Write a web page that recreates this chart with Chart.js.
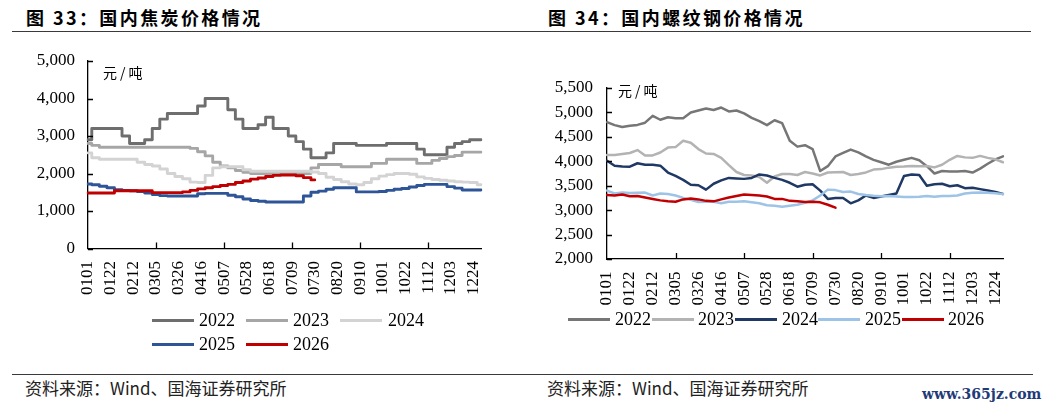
<!DOCTYPE html>
<html><head><meta charset="utf-8">
<script src="https://cdn.jsdelivr.net/npm/chart.js@4.4.0/dist/chart.umd.min.js"></script>
<style>
html,body{margin:0;padding:0;background:#fff;}
body{width:1045px;height:411px;position:relative;overflow:hidden;font-family:"Noto Sans CJK SC",sans-serif;}
.title{position:absolute;top:6px;font-weight:bold;font-size:18px;letter-spacing:2.4px;color:#000;white-space:nowrap;line-height:22px;}
.rule{position:absolute;height:0;border-top:1.5px solid #3a3a3a;}
.src{position:absolute;top:378px;font-size:17px;line-height:20px;color:#222;white-space:nowrap;}
.unit{position:absolute;font-size:14px;line-height:16px;letter-spacing:3px;color:#000;white-space:nowrap;}
.wm{position:absolute;left:922px;top:386px;font-family:"DejaVu Serif",serif;font-weight:bold;font-size:14px;color:#1f3b78;white-space:nowrap;}
canvas{position:absolute;}
.lgs{position:absolute;width:42px;height:3px;}
.lgt{position:absolute;font-family:"Liberation Serif",serif;font-size:18px;line-height:20px;color:#000;white-space:nowrap;}
</style></head>
<body>
<div class="title" style="left:26px">图 33：国内焦炭价格情况</div>
<div class="title" style="left:548px">图 34：国内螺纹钢价格情况</div>
<div class="rule" style="left:12px;top:31px;width:1019px"></div>
<div class="rule" style="left:12px;top:374px;width:1021px"></div>
<div class="src" style="left:25px">资料来源：Wind、国海证券研究所</div>
<div class="src" style="left:547px">资料来源：Wind、国海证券研究所</div>
<div class="wm">www.365jz.com</div>
<canvas id="c1" width="520" height="300" style="left:0;top:0"></canvas>
<canvas id="c2" width="525" height="320" style="left:520px;top:0"></canvas>
<div class="unit" style="left:103px;top:64px">元/吨</div>
<div class="unit" style="left:618px;top:82px">元/吨</div>
<div id="legend1"></div>
<div id="legend2"></div>
<script>
// ---- data ----
const weeks = ['0101','0108','0115','0122','0129','0205','0212','0219','0226','0305','0312','0319','0326','0402','0409','0416','0423','0430','0507','0514','0521','0528','0604','0611','0618','0625','0702','0709','0716','0723','0730','0806','0813','0820','0827','0903','0910','0917','0924','1001','1008','1015','1022','1029','1105','1112','1119','1126','1203','1210','1217','1224','1231'];
const tickLabels = ['0101','0122','0212','0305','0326','0416','0507','0528','0618','0709','0730','0820','0910','1001','1022','1112','1203','1224'];
const years = ['2022','2023','2024','2025','2026'];

// 国内焦炭价格 (元/吨)
const coke2022 = [2900,3200,3200,3200,3200,3000,2800,2800,2900,3200,3450,3600,3600,3600,3600,3800,4000,4000,4000,3700,3450,3200,3200,3300,3500,3200,3200,3000,2850,2650,2420,2420,2550,2800,2800,2800,2750,2750,2750,2750,2800,2800,2800,2800,2650,2500,2500,2500,2700,2800,2850,2900,2900];
const coke2023 = [2800,2750,2700,2700,2700,2700,2700,2700,2700,2700,2700,2700,2700,2700,2670,2580,2470,2300,2200,2150,2080,2030,2000,2000,2000,2000,2000,2000,2000,2000,2150,2240,2240,2240,2180,2180,2180,2180,2270,2270,2380,2380,2380,2380,2270,2270,2350,2400,2450,2480,2570,2570,2570];
const coke2024 = [2550,2420,2380,2380,2380,2380,2380,2300,2240,2200,2120,2000,1920,1860,1770,1760,1950,2150,2180,2180,2180,2100,2060,2060,2060,2060,2060,2060,2060,2060,2040,2000,1900,1840,1780,1720,1700,1760,1860,1930,1970,2000,2000,1980,1910,1870,1840,1820,1800,1780,1770,1760,1700];
const coke2025 = [1720,1700,1660,1620,1570,1550,1540,1520,1480,1440,1410,1400,1400,1400,1400,1460,1470,1470,1470,1420,1380,1320,1280,1260,1240,1240,1240,1240,1240,1400,1500,1530,1580,1620,1620,1620,1510,1510,1510,1520,1550,1580,1600,1640,1680,1710,1710,1710,1650,1610,1560,1560,1560];
const coke2026 = [1480,1480,1480,1480,1540,1540,1540,1540,1540,1490,1490,1490,1490,1510,1550,1590,1620,1650,1680,1710,1760,1800,1850,1880,1920,1950,1960,1960,1940,1890,1830];

// 国内螺纹钢价格 (元/吨)
const rebar2022 = [4800,4740,4700,4727,4745,4790,4930,4850,4900,4880,4880,5000,5040,5080,5050,5100,5020,5040,4980,4890,4820,4740,4840,4780,4420,4300,4330,4250,3800,3900,4100,4170,4240,4182,4100,4030,3980,3930,3990,4030,4070,4020,3900,3750,3800,3790,3790,3800,3770,3850,3950,4040,4100];
const rebar2023 = [4130,4130,4150,4170,4230,4120,4120,4180,4280,4290,4420,4380,4250,4160,4150,4070,3920,3780,3720,3710,3680,3560,3690,3740,3740,3720,3780,3750,3710,3770,3775,3780,3720,3738,3772,3830,3840,3870,3890,3895,3905,3900,3905,3875,3930,4030,4110,4080,4070,4110,4070,4040,3980];
const rebar2024 = [4010,3910,3895,3890,3960,3930,3930,3910,3770,3700,3620,3520,3510,3420,3540,3610,3660,3650,3640,3660,3730,3710,3660,3620,3560,3480,3520,3530,3400,3230,3250,3250,3140,3200,3300,3250,3280,3310,3340,3700,3730,3720,3500,3530,3540,3490,3510,3450,3460,3430,3400,3370,3330];
const rebar2025 = [3400,3340,3360,3350,3355,3360,3300,3340,3330,3300,3250,3210,3165,3170,3170,3140,3170,3172,3180,3160,3140,3100,3090,3070,3090,3110,3150,3200,3300,3420,3410,3370,3380,3330,3310,3295,3285,3290,3280,3270,3270,3275,3290,3275,3290,3290,3300,3340,3355,3360,3355,3345,3330];
const rebar2026 = [3310,3300,3320,3285,3290,3260,3230,3200,3180,3172,3220,3240,3220,3190,3180,3220,3260,3290,3320,3310,3300,3280,3230,3230,3190,3180,3165,3170,3160,3110,3050];

// ---- styles ----
const cokeColors = ['#6e6e6e','#a6a6a6','#d3d3d3','#2e5597','#c00000'];
const rebarColors = ['#767676','#b3b3b3','#1f3864','#9dc3e6','#c00000'];

const inwardTicks = {
  id: 'inwardTicks',
  afterDraw(chart) {
    const ctx = chart.ctx, xs = chart.scales.x, ys = chart.scales.y, a = chart.chartArea;
    ctx.save();
    ctx.strokeStyle = '#000';
    ctx.lineWidth = 1.3;
    ctx.beginPath();
    xs.ticks.forEach((t, i) => {
      if (i === 0 || !tickLabels.includes(weeks[i])) return;
      const px = Math.round(xs.getPixelForTick(i)) + 0.5;
      ctx.moveTo(px, a.bottom); ctx.lineTo(px, a.bottom - 6);
    });
    ys.ticks.forEach((t, i) => {
      const py = Math.round(ys.getPixelForTick(i)) + 0.5;
      ctx.moveTo(a.left, py); ctx.lineTo(a.left + 5, py);
    });
    ctx.stroke();
    ctx.restore();
  }
};

function makeChart(id, series, colors, lineW, stepped, yMin, yMax, yStep, yWidth, xHeight, padding, yPad) {
  const datasets = series.map((d, i) => ({
    label: years[i], data: d, borderColor: colors[i], backgroundColor: colors[i],
    borderWidth: lineW, pointRadius: 0, tension: 0, stepped: stepped,
    borderJoinStyle: 'round', borderCapStyle: 'round', order: series.length - i, spanGaps: false
  }));
  return new Chart(document.getElementById(id), {
    type: 'line',
    data: { labels: weeks, datasets },
    options: {
      responsive: false, animation: false, devicePixelRatio: 1,
      layout: { padding },
      plugins: { legend: { display: false }, tooltip: { enabled: false } },
      scales: {
        x: {
          type: 'category', offset: false,
          grid: { display: true, drawOnChartArea: false, drawTicks: false },
          border: { display: true, color: '#000', width: 1.3 },
          ticks: {
            autoSkip: false, maxRotation: 90, minRotation: 90, padding: 12.5, color: '#000',
            font: { family: 'Liberation Serif', size: 17 },
            callback: (v, i) => tickLabels.includes(weeks[i]) ? weeks[i] : null
          },
          afterFit: s => { s.height = xHeight; }
        },
        y: {
          min: yMin, max: yMax,
          grid: { display: true, drawOnChartArea: false, drawTicks: false },
          border: { display: true, color: '#000', width: 1.3 },
          ticks: {
            stepSize: yStep, padding: yPad, color: '#000',
            font: { family: 'Liberation Serif', size: 17 },
            callback: v => v.toLocaleString('en-US')
          },
          afterFit: s => { s.width = yWidth; }
        }
      }
    },
    plugins: [inwardTicks]
  });
}

const chart1 = makeChart('c1', [coke2022, coke2023, coke2024, coke2025, coke2026], cokeColors, 2.9, 'middle',
  0, 5000, 1000, 88, 51.5, { left: 0, top: 61, right: 39, bottom: 0 }, 13);
const chart2 = makeChart('c2', [rebar2022, rebar2023, rebar2024, rebar2025, rebar2026], rebarColors, 2.5, false,
  2000, 5500, 500, 87, 61, { left: 0, top: 88, right: 42, bottom: 0 }, 14);

// ---- HTML legends built from the charts' datasets ----
function buildLegend(chart, hostId, sampleX, rowY, textX) {
  const host = document.getElementById(hostId);
  chart.data.datasets.forEach((ds, i) => {
    const s = document.createElement('div');
    s.className = 'lgs';
    s.style.left = sampleX[i] + 'px';
    s.style.top = (rowY[i] - 1) + 'px';
    s.style.background = ds.borderColor;
    host.appendChild(s);
    const t = document.createElement('div');
    t.className = 'lgt';
    t.style.left = textX[i] + 'px';
    t.style.top = (rowY[i] - 10) + 'px';
    t.textContent = ds.label;
    host.appendChild(t);
  });
}
buildLegend(chart1, 'legend1', [152, 246, 340, 152, 246], [320, 320, 320, 344, 344], [199, 293, 388, 199, 293]);
buildLegend(chart2, 'legend2', [568, 652, 735, 818, 902], [319, 319, 319, 319, 319], [615, 698, 782, 865, 948]);
</script>
</body></html>
